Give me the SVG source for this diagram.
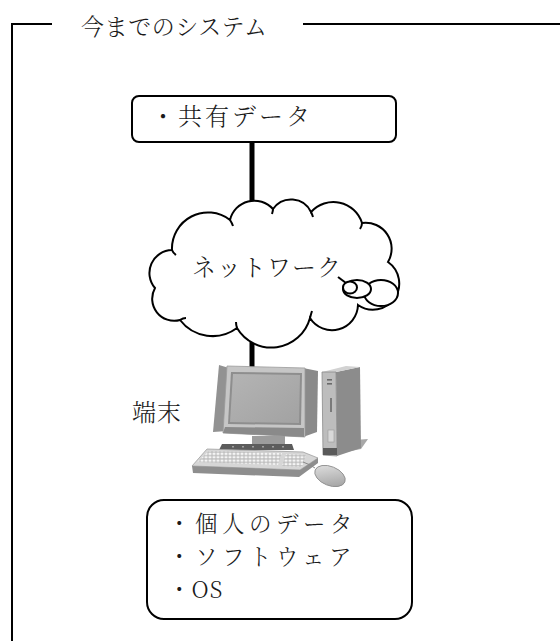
<svg xmlns="http://www.w3.org/2000/svg" width="560" height="641" viewBox="0 0 560 641">
  <defs>
    <style>
      .jp { font-family: "Noto Serif CJK JP", "Noto Sans CJK JP", sans-serif; font-weight: 300; fill: #1a1a1a; }
      .box { fill: #ffffff; stroke: #000000; stroke-width: 2; }
      .line { stroke: #000000; stroke-width: 2; fill: none; }
      .cloud { fill: #ffffff; stroke: #000000; stroke-width: 2; }
      .stub { fill: none; stroke: #000000; stroke-width: 2; }
      .link { stroke: #000000; stroke-width: 5; }
    </style>
    <linearGradient id="mouseShade" x1="0" y1="0" x2="1" y2="1">
      <stop offset="0" stop-color="#e6e6e6"/>
      <stop offset="1" stop-color="#9a9a9a"/>
    </linearGradient>
    <linearGradient id="screenShade" x1="0" y1="0" x2="1" y2="1">
      <stop offset="0" stop-color="#b4b4b4"/>
      <stop offset="1" stop-color="#a2a2a2"/>
    </linearGradient>
    <pattern id="keys" width="4" height="3.4" patternUnits="userSpaceOnUse">
      <rect width="4" height="3.4" fill="#b8b8b8"/>
      <rect x="0.5" y="0.5" width="3" height="2.3" fill="#f4f4f4"/>
    </pattern>
  </defs>

  <!-- outer frame with title gap -->
  <g id="frame">
    <path class="line" d="M12 641 V24 H52 M303 24 H560"/>
    <text class="jp" x="81" y="35" font-size="23" letter-spacing="0.6">今までのシステム</text>
  </g>

  <!-- connectors -->
  <g id="connectors">
    <line class="link" x1="252" y1="142" x2="252" y2="207"/>
    <line class="link" x1="252" y1="338" x2="252" y2="372"/>
  </g>

  <!-- shared data box -->
  <g id="node-shared-data">
    <rect class="box" x="132" y="96" width="264" height="46" rx="7"/>
    <text class="jp" x="151" y="125" font-size="24" letter-spacing="3">・共有データ</text>
  </g>

  <!-- network cloud -->
  <g id="node-network">
    <path class="cloud" d="M155 288
      A23 23 0 0 1 172 250
      A36 36 0 0 1 230 220
      A25 25 0 0 1 273 209
      A22 22 0 0 1 311 212
      A30 30 0 0 1 362 223
      A26 26 0 0 1 388 262
      A26 26 0 0 1 358 305
      A26 26 0 0 1 310 318
      A40 40 0 0 1 237 328
      A41 41 0 0 1 180 320
      A22 22 0 0 1 155 288 Z"/>
    <!-- inner scallop ends -->
    <path class="stub" d="M172 250 Q173 253 176 255"/>
    <path class="stub" d="M230 220 Q232 223 233 226"/>
    <path class="stub" d="M273 209 Q273 211 272 214"/>
    <path class="stub" d="M311 212 Q312 214 313 217"/>
    <path class="stub" d="M362 223 Q362 226 360 229"/>
    <path class="stub" d="M310 318 Q311 314 312 311"/>
    <path class="stub" d="M237 328 Q236 325 236 322"/>
    <path class="stub" d="M180 320 Q183 318 186 318"/>
    <path class="stub" d="M338 277 L346 283"/>
    <!-- callout bubbles -->
    <ellipse class="cloud" cx="381" cy="293" rx="17" ry="13"/>
    <ellipse class="cloud" cx="357" cy="289" rx="14" ry="9"/>
    <ellipse class="cloud" cx="350" cy="287.5" rx="7" ry="6"/>
    <text class="jp" x="192" y="276" font-size="24" letter-spacing="1">ネットワーク</text>
  </g>

  <!-- terminal: desktop computer -->
  <g id="node-terminal">
    <text class="jp" x="132" y="421" font-size="24" letter-spacing="1">端末</text>

    <!-- tower -->
    <polygon points="354,440 368,439 361,449 346,452" fill="#a8a8a8"/>
    <polygon points="336,372 360,367 361,448 337,456" fill="#8c8c8c"/>
    <polygon points="322,372 346,366 360,367 336,372" fill="#d2d2d2"/>
    <polygon points="322,372 336,372 337,456 323,455" fill="#bdbdbd" stroke="#8a8a8a" stroke-width="0.8"/>
    <rect x="327" y="379" width="5" height="1.6" fill="#6a6a6a"/>
    <rect x="327" y="383" width="5" height="1.6" fill="#6a6a6a"/>
    <rect x="330" y="398" width="2" height="14" fill="#7a7a7a"/>
    <rect x="328" y="430" width="6" height="12" fill="#d8d8d8" stroke="#9a9a9a" stroke-width="0.6"/>
    <rect x="323" y="448" width="14" height="7" fill="#5a5a5a"/>

    <!-- monitor -->
    <polygon points="303,368 318,371 317,432 303,437" fill="#8a8a8a"/>
    <polygon points="219,365 229,368 228,431 213,432" fill="#929292"/>
    <polygon points="227,366 305,368 305,437 223,433" fill="#c6c6c6" stroke="#9a9a9a" stroke-width="0.8"/>
    <polygon points="231,372 302,373 301,425 228,424" fill="#8e8e8e"/>
    <polygon points="233,374 300,375 299,423 230,422" fill="url(#screenShade)"/>
    <polygon points="225,427 304,428 304,437 223,433" fill="#8a8a8a"/>
    <!-- stand -->
    <rect x="252" y="436" width="33" height="9" fill="#9c9c9c"/>
    <polygon points="222,444 292,444 294,450 219,450" fill="#5c5c5c"/>
    <g fill="#a0a0a0">
      <rect x="232" y="446" width="2" height="1.5"/>
      <rect x="242" y="446" width="2" height="1.5"/>
      <rect x="252" y="446" width="2" height="1.5"/>
      <rect x="262" y="446" width="2" height="1.5"/>
      <rect x="272" y="446" width="2" height="1.5"/>
      <rect x="282" y="446" width="2" height="1.5"/>
    </g>

    <!-- keyboard -->
    <polygon points="207,449 303,452 318,458 300,470 192,466" fill="#d6d6d6" stroke="#a0a0a0" stroke-width="0.8"/>
    <polygon points="192,466 300,470 318,458 318,463 299,477 193,473" fill="#8e8e8e"/>
    <polygon points="209,451 282,453 278,465 197,462" fill="url(#keys)"/>
    <polygon points="286,454 306,455 302,467 282,466" fill="url(#keys)"/>

    <!-- mouse -->
    <path d="M315 468 Q309 464 303 462" fill="none" stroke="#8a8a8a" stroke-width="1"/>
    <ellipse cx="330" cy="476" rx="16" ry="9.5" transform="rotate(22 330 476)" fill="url(#mouseShade)" stroke="#8a8a8a" stroke-width="0.8"/>
  </g>

  <!-- local items box -->
  <g id="node-local">
    <rect class="box" x="147" y="500" width="265" height="119" rx="17"/>
    <text class="jp" x="168" y="532" font-size="22.5" letter-spacing="4.5">・個人のデータ</text>
    <text class="jp" x="168" y="565" font-size="22.5" letter-spacing="4.5">・ソフトウェア</text>
    <text class="jp" x="168" y="598" font-size="22.5" letter-spacing="1">・OS</text>
  </g>
</svg>
